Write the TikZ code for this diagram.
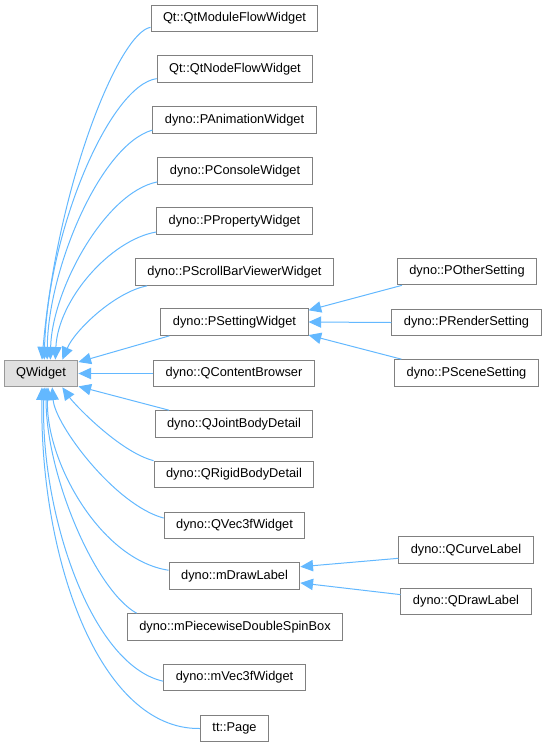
\documentclass[tikz,border=0pt]{standalone}
\usepackage{fontspec}
\setmainfont{Liberation Sans}
\usetikzlibrary{arrows.meta}
\definecolor{EdgeBlue}{HTML}{63B8FF}
\definecolor{BoxGray}{HTML}{808080}
\definecolor{RootFill}{HTML}{E0E0E0}
\definecolor{RootBorder}{HTML}{999999}

\tikzset{
  classbox/.style={draw=BoxGray, fill=white, line width=0.75pt, font=\fontsize{9.6pt}{11pt}\selectfont,
    inner xsep=9pt, inner ysep=0pt, minimum height=20pt},
  rootbox/.style={classbox, draw=RootBorder, fill=RootFill},
  inherit/.style={draw=EdgeBlue, line width=0.75pt, -{Triangle[length=9.5pt, width=8.5pt]}}
}

\begin{document}
\begin{tikzpicture}[x=0.75pt, y=-0.75pt]
    \useasboundingbox (0,0) rectangle (547,747);

    % Base class
    \node[rootbox] (qwidget) at (41,373.5) {QWidget};

    % Direct subclasses
    \node[classbox] (qmodule)  at (234.5,18.5) {Qt::QtModuleFlowWidget};
    \node[classbox] (qnode)    at (235,69)     {Qt::QtNodeFlowWidget};
    \node[classbox] (panim)    at (234.5,120)  {dyno::PAnimationWidget};
    \node[classbox] (pconsole) at (235,171)    {dyno::PConsoleWidget};
    \node[classbox] (pprop)    at (234.5,221)  {dyno::PPropertyWidget};
    \node[classbox] (pscroll)  at (234.5,272)  {dyno::PScrollBarViewerWidget};
    \node[classbox] (psetting) at (234.5,322)  {dyno::PSettingWidget};
    \node[classbox] (qcontent) at (234,373.5)  {dyno::QContentBrowser};
    \node[classbox] (qjoint)   at (234,424)    {dyno::QJointBodyDetail};
    \node[classbox] (qrigid)   at (234,474.5)  {dyno::QRigidBodyDetail};
    \node[classbox] (qvec)     at (234.5,525.5){dyno::QVec3fWidget};
    \node[classbox] (mdraw)    at (234.5,576)  {dyno::mDrawLabel};
    \node[classbox] (mpiece)   at (235,627)    {dyno::mPiecewiseDoubleSpinBox};
    \node[classbox] (mvec)     at (234.5,677.5){dyno::mVec3fWidget};
    \node[classbox] (ttpage)   at (234.5,728.5){tt::Page};

    % Second level
    \node[classbox] (pother)  at (467,271.5)  {dyno::POtherSetting};
    \node[classbox] (prender) at (466.5,322.5){dyno::PRenderSetting};
    \node[classbox] (pscene)  at (466.5,373)  {dyno::PSceneSetting};
    \node[classbox] (qcurve)  at (466,550)    {dyno::QCurveLabel};
    \node[classbox] (qdraw)   at (466,601.5)  {dyno::QDrawLabel};

    % Edges into QWidget, top side
    \draw[inherit] (qmodule.186)  .. controls (120,32) and (58,180) .. (qwidget.86);
    \draw[inherit] (qnode.187)    .. controls (110,85) and (48,230) .. (qwidget.77);
    \draw[inherit] (panim.187)    .. controls (100,145) and (48,270) .. (qwidget.66);
    \draw[inherit] (pconsole.188) .. controls (105,192) and (52,290) .. (qwidget.56);
    \draw[inherit] (pprop.188)    .. controls (110,240) and (58,300) .. (qwidget.44);
    \draw[inherit] (pscroll.189)  .. controls (115,292) and (75,330) .. (qwidget.33);
    \draw[inherit] (psetting.192) -- (qwidget.17);
    \draw[inherit] (qcontent.west) -- (qwidget.east);
    \draw[inherit] (qjoint.168) -- (qwidget.341);

    % Edges into QWidget, bottom side
    \draw[inherit] (qrigid.north west) .. controls (120,452) and (75,405) .. (qwidget.327);
    \draw[inherit] (qvec.174)   .. controls (115,505) and (55,425) .. (qwidget.309);
    \draw[inherit] (mdraw.175)  .. controls (100,560) and (45,460) .. (qwidget.297);
    \draw[inherit] (mpiece.172) .. controls (95,590) and (46,475) .. (qwidget.290);
    \draw[inherit] (mvec.183)   .. controls (90,665) and (40,510) .. (qwidget.283);
    \draw[inherit] (ttpage.west) .. controls (100,730) and (40,560) .. (qwidget.274);

    % Second level edges
    \draw[inherit] (pother.192) -- (psetting.9);
    \draw[inherit] (prender.west) -- (psetting.east);
    \draw[inherit] (pscene.168) -- (psetting.350);
    \draw[inherit] (qcurve.187) -- (mdraw.8);
    \draw[inherit] (qdraw.174) -- (mdraw.354);
\end{tikzpicture}
\end{document}
